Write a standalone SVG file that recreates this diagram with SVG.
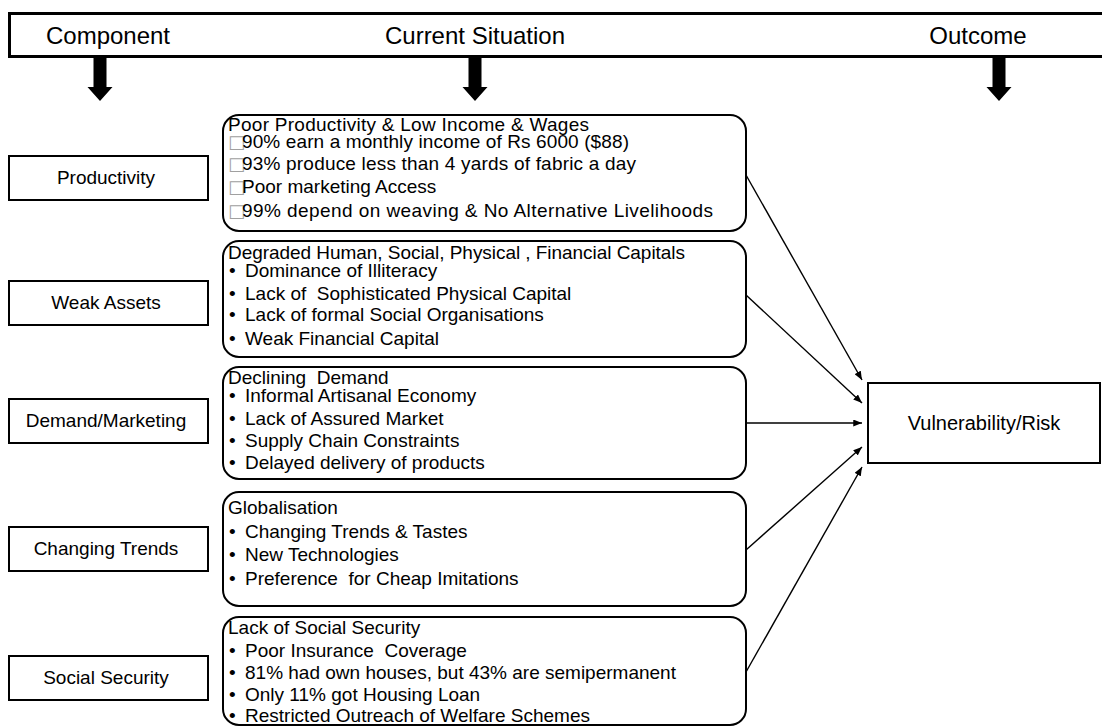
<svg xmlns="http://www.w3.org/2000/svg" width="1102" height="727" viewBox="0 0 1102 727">
<style>
  .hdr { font-family: "Liberation Sans", Arial, sans-serif; font-size: 24px; fill: #000; text-anchor: middle; }
  .lbl { font-family: "Liberation Sans", Arial, sans-serif; font-size: 19px; fill: #000; text-anchor: middle; }
  .txt { font-family: "Liberation Sans", Arial, sans-serif; font-size: 19px; fill: #000; white-space: pre; }
  .sq  { font-family: "DejaVu Sans", sans-serif; font-size: 18px; fill: #a0a0a0; }
  .box { fill: #fff; stroke: #000; stroke-width: 2; }
  .rbox { fill: #fff; stroke: #000; stroke-width: 2; }
  .conn { fill: none; stroke: #000; stroke-width: 1.4; marker-end: url(#ah); }
</style>
<defs>
  <marker id="ah" viewBox="0 0 10 8" refX="10" refY="4" markerWidth="9" markerHeight="7" markerUnits="userSpaceOnUse" orient="auto">
    <path d="M0,0 L10,4 L0,8 Z" fill="#000"/>
  </marker>
  <path id="bigArrow" d="M-6.5,0 H6.5 V30 H12.5 L0,44 L-12.5,30 H-6.5 Z" fill="#000"/>
</defs>
<rect width="1102" height="727" fill="#fff"/>

<g id="header">
  <rect x="9.5" y="13.5" width="1100" height="43" fill="#fff" stroke="#000" stroke-width="3"/>
  <text class="hdr" x="108" y="44">Component</text>
  <text class="hdr" x="475" y="44">Current Situation</text>
  <text class="hdr" x="978" y="44">Outcome</text>
  <use href="#bigArrow" transform="translate(100,57)"/>
  <use href="#bigArrow" transform="translate(475,57)"/>
  <use href="#bigArrow" transform="translate(999,57)"/>
</g>

<g id="productivity">
  <rect class="box" x="9" y="156" width="199" height="44"/>
  <text class="lbl" x="106" y="184">Productivity</text>
</g>
<g id="weak-assets">
  <rect class="box" x="9" y="281" width="199" height="44"/>
  <text class="lbl" x="106" y="309">Weak Assets</text>
</g>
<g id="demand-marketing">
  <rect class="box" x="9" y="399" width="199" height="44"/>
  <text class="lbl" x="106" y="427">Demand/Marketing</text>
</g>
<g id="changing-trends">
  <rect class="box" x="9" y="527" width="199" height="44"/>
  <text class="lbl" x="106" y="555">Changing Trends</text>
</g>
<g id="social-security">
  <rect class="box" x="9" y="656" width="199" height="44"/>
  <text class="lbl" x="106" y="684">Social Security</text>
</g>

<g id="situation-productivity">
  <rect class="rbox" x="223" y="115" width="523" height="116" rx="16"/>
  <text class="txt" x="228" y="131" textLength="361" lengthAdjust="spacing">Poor Productivity &amp; Low Income &amp; Wages</text>
  <text class="sq" x="228" y="148">□</text><text class="txt" x="242" y="148" textLength="387" lengthAdjust="spacing">90% earn a monthly income of Rs 6000 ($88)</text>
  <text class="sq" x="228" y="170">□</text><text class="txt" x="242" y="170" textLength="394" lengthAdjust="spacing">93% produce less than 4 yards of fabric a day</text>
  <text class="sq" x="228" y="193">□</text><text class="txt" x="242" y="193">Poor marketing Access</text>
  <text class="sq" x="228" y="217">□</text><text class="txt" x="242" y="217" textLength="471" lengthAdjust="spacing">99% depend on weaving &amp; No Alternative Livelihoods</text>
</g>

<g id="situation-assets">
  <rect class="rbox" x="223" y="241" width="523" height="116" rx="16"/>
  <text class="txt" x="228" y="259" textLength="457" lengthAdjust="spacing">Degraded Human, Social, Physical , Financial Capitals</text>
  <text class="txt" x="229" y="277">•</text><text class="txt" x="245" y="277">Dominance of Illiteracy</text>
  <text class="txt" x="229" y="300">•</text><text class="txt" x="245" y="300">Lack of  Sophisticated Physical Capital</text>
  <text class="txt" x="229" y="321">•</text><text class="txt" x="245" y="321">Lack of formal Social Organisations</text>
  <text class="txt" x="229" y="345">•</text><text class="txt" x="245" y="345">Weak Financial Capital</text>
</g>

<g id="situation-demand">
  <rect class="rbox" x="223" y="367" width="523" height="112" rx="16"/>
  <text class="txt" x="228" y="384">Declining  Demand</text>
  <text class="txt" x="229" y="402">•</text><text class="txt" x="245" y="402">Informal Artisanal Economy</text>
  <text class="txt" x="229" y="425">•</text><text class="txt" x="245" y="425">Lack of Assured Market</text>
  <text class="txt" x="229" y="447">•</text><text class="txt" x="245" y="447">Supply Chain Constraints</text>
  <text class="txt" x="229" y="469">•</text><text class="txt" x="245" y="469">Delayed delivery of products</text>
</g>

<g id="situation-trends">
  <rect class="rbox" x="223" y="492" width="523" height="114" rx="16"/>
  <text class="txt" x="228" y="514">Globalisation</text>
  <text class="txt" x="229" y="538">•</text><text class="txt" x="245" y="538">Changing Trends &amp; Tastes</text>
  <text class="txt" x="229" y="561">•</text><text class="txt" x="245" y="561">New Technologies</text>
  <text class="txt" x="229" y="585">•</text><text class="txt" x="245" y="585">Preference  for Cheap Imitations</text>
</g>

<g id="situation-social">
  <rect class="rbox" x="223" y="617" width="523" height="108" rx="16"/>
  <text class="txt" x="228" y="634">Lack of Social Security</text>
  <text class="txt" x="229" y="657">•</text><text class="txt" x="245" y="657">Poor Insurance  Coverage</text>
  <text class="txt" x="229" y="679">•</text><text class="txt" x="245" y="679">81% had own houses, but 43% are semipermanent</text>
  <text class="txt" x="229" y="701">•</text><text class="txt" x="245" y="701">Only 11% got Housing Loan</text>
  <text class="txt" x="229" y="722">•</text><text class="txt" x="245" y="722">Restricted Outreach of Welfare Schemes</text>
</g>

<g id="vulnerability">
  <rect class="box" x="868" y="383" width="232" height="80"/>
  <text class="lbl" x="984" y="430" style="font-size:20px">Vulnerability/Risk</text>
</g>

<g id="connectors">
  <line class="conn" x1="746" y1="175" x2="862" y2="380"/>
  <line class="conn" x1="746" y1="295" x2="862" y2="403"/>
  <line class="conn" x1="746" y1="423" x2="862" y2="423"/>
  <line class="conn" x1="746" y1="550" x2="862" y2="447"/>
  <line class="conn" x1="746" y1="672" x2="862" y2="467"/>
</g>
</svg>
